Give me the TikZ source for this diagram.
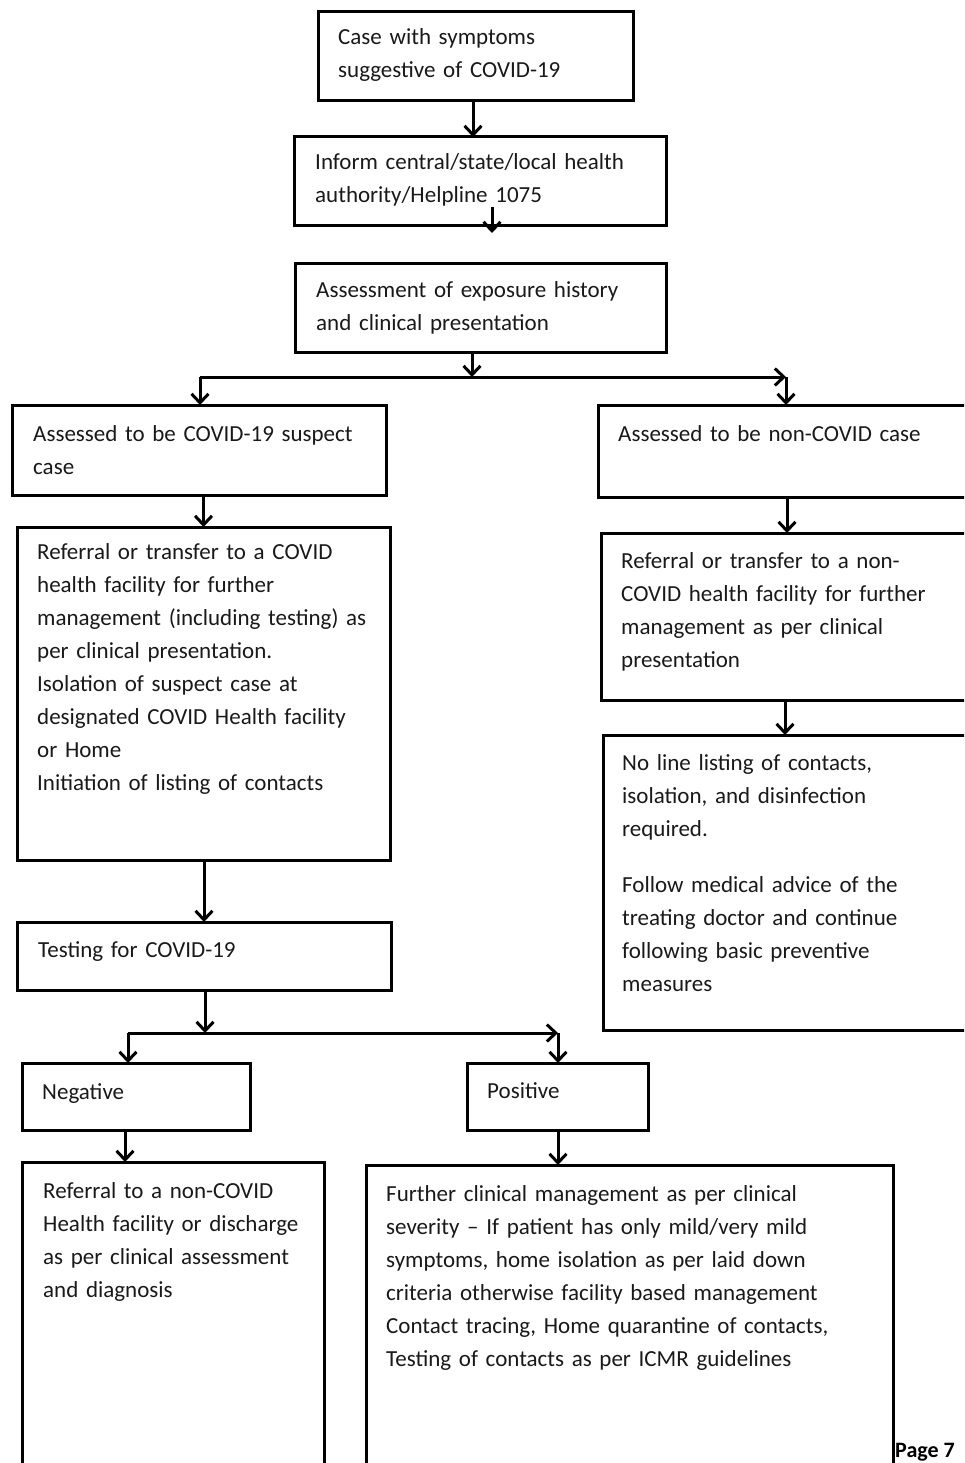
\documentclass[tikz,border=0pt]{standalone}
\usepackage{fontspec}
\setmainfont{Carlito}
\usetikzlibrary{arrows.meta}
\begin{document}
\begin{tikzpicture}[x=1pt,y=-1pt,
  box/.style={draw=black, line width=3pt, inner sep=0pt, outer sep=0pt, anchor=north west, rectangle},
  txt/.style={anchor=base west, inner sep=0pt, text width=#1, align=left, font=\fontsize{23}{33}\selectfont, text=black!90},
  txt/.default=520pt,
  arr/.style={-{Straight Barb[length=9pt,width=17pt]}, line width=3pt},
  ln/.style={line width=3pt}]
\useasboundingbox (0,0) rectangle (964,1463);
\clip (0,0) rectangle (964,1463);
% boxes
\node[box, minimum width=315pt, minimum height=89pt] (b1) at (318,12) {};
\node[box, minimum width=372pt, minimum height=89pt] (b2) at (294,137) {};
\node[box, minimum width=371pt, minimum height=89pt] (b3) at (295,263) {};
\node[box, minimum width=374pt, minimum height=90pt] (b4) at (12,405) {};
\node[box, minimum width=377pt, minimum height=92pt] (b5) at (598,405) {};
\node[box, minimum width=373pt, minimum height=333pt] (b6) at (17,527) {};
\node[box, minimum width=374pt, minimum height=167pt] (b7) at (601,533) {};
\node[box, minimum width=372pt, minimum height=295pt] (b8) at (603,735) {};
\node[box, minimum width=374pt, minimum height=68pt] (b9) at (17,922) {};
\node[box, minimum width=228pt, minimum height=67pt] (b10) at (22,1063) {};
\node[box, minimum width=181pt, minimum height=67pt] (b11) at (467,1063) {};
\node[box, minimum width=302pt, minimum height=318pt] (b12) at (22,1162) {};
\node[box, minimum width=527pt, minimum height=315pt] (b13) at (366,1165) {};
% texts
\node[txt] (t1) at (338,45) {Case with symptoms\\suggestive of COVID-19};
\node[txt] (t2) at (315,170) {Inform central/state/local health\\authority/Helpline 1075};
\node[txt] (t3) at (316,297) {Assessment of exposure history\\and clinical presentation};
\node[txt] (t4) at (33,441) {Assessed to be COVID-19 suspect\\case};
\node[txt] (t5) at (618,441) {Assessed to be non-COVID case};
\node[txt] (t6) at (37,559) {Referral or transfer to a COVID\\health facility for further\\management (including testing) as\\per clinical presentation.\\Isolation of suspect case at\\designated COVID Health facility\\or Home\\Initiation of listing of contacts};
\node[txt] (t7) at (621,568) {Referral or transfer to a non-\\COVID health facility for further\\management as per clinical\\presentation};
\node[txt] (t8) at (622,770) {No line listing of contacts,\\isolation, and disinfection\\required.\\[23pt]Follow medical advice of the\\treating doctor and continue\\following basic preventive\\measures};
\node[txt] (t9) at (38,957) {Testing for COVID-19};
\node[txt] (t10) at (42,1099) {Negative};
\node[txt] (t11) at (487,1098) {Positive};
\node[txt] (t12) at (43,1198) {Referral to a non-COVID\\Health facility or discharge\\as per clinical assessment\\and diagnosis};
\node[txt] (t13) at (386,1201) {Further clinical management as per clinical\\severity -- If patient has only mild/very mild\\symptoms, home isolation as per laid down\\criteria otherwise facility based management\\Contact tracing, Home quarantine of contacts,\\Testing of contacts as per ICMR guidelines};
\node[anchor=base west, inner sep=0pt, font=\fontsize{22}{26}\selectfont\bfseries] (pg) at (895,1457) {Page 7};
% helper coordinates
\coordinate (x473) at (473,0);
\coordinate (j1) at (472,377);
\coordinate (jl) at (200,377);
\coordinate (jr) at (786,377);
\coordinate (x787) at (787,0);
\coordinate (x785) at (785,0);
\coordinate (j2) at (205,1033);
\coordinate (jl2) at (128,1033);
\coordinate (jr2) at (558,1033);
\coordinate (x125) at (125,0);
\coordinate (x558) at (558,0);
\coordinate (a2s) at (492,207);
\coordinate (a2e) at (492,233);
% connectors
\draw[arr] (b1.south -| x473) -- (b2.north -| x473);
\draw[arr] (a2s) -- (a2e);
\draw[arr] (b3.south -| j1) -- (j1);
\draw[arr] (jl) -- (jr);
\draw[arr] (jl) -- (jl |- b4.north);
\draw[arr] (jr) -- (jr |- b5.north);
\draw[arr] (b6.north |- b4.south) -- (b6.north);
\draw[arr] (b5.south -| x787) -- (b7.north -| x787);
\draw[arr] (b7.south -| x785) -- (b8.north -| x785);
\draw[arr] (b9.north |- b6.south) -- (b9.north);
\draw[arr] (b9.south -| j2) -- (j2);
\draw[arr] (jl2) -- (jr2);
\draw[arr] (jl2) -- (jl2 |- b10.north);
\draw[arr] (jr2) -- (jr2 |- b11.north);
\draw[arr] (b10.south -| x125) -- (b12.north -| x125);
\draw[arr] (b11.south -| x558) -- (b13.north -| x558);
\end{tikzpicture}
\end{document}
